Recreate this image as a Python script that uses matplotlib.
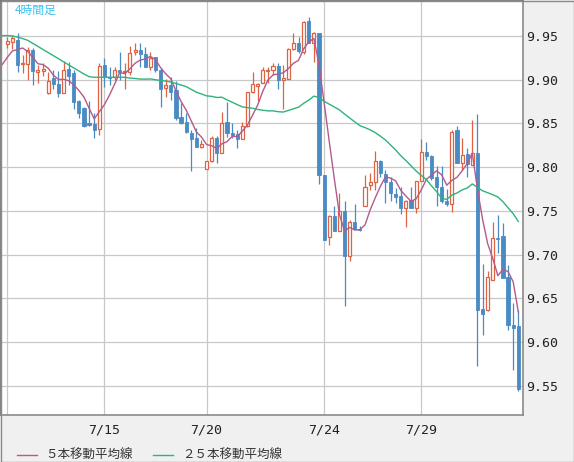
import numpy as np
import pandas as pd
import matplotlib
matplotlib.use("Agg")
import matplotlib.pyplot as plt
from matplotlib.lines import Line2D

# 4-hour candles (oldest first)
opens = [9.9405, 9.9435, 9.9454, 9.9176, 9.9176, 9.9340, 9.9092, 9.9104, 9.8845, 9.9016,
         9.8951, 9.8852, 9.9123, 9.9081, 9.8761, 9.8681, 9.8502, 9.8494, 9.8433, 9.9169,
         9.9035, 9.9028, 9.9111, 9.9085, 9.9085, 9.9321, 9.9340, 9.9294, 9.9150, 9.9264,
         9.9111, 9.8902, 9.8940, 9.8883, 9.8578, 9.8513, 9.8395, 9.8338, 9.8235, 9.7976,
         9.8075, 9.8338, 9.8159, 9.8513, 9.8395, 9.8380, 9.8323, 9.8471, 9.8856, 9.8929,
         9.8959, 9.9100, 9.9111, 9.9157, 9.8993, 9.9009, 9.9348, 9.9424, 9.9321, 9.9675,
         9.9424, 9.9530, 9.7911, 9.7199, 9.7443, 9.7275, 9.7500, 9.6978, 9.7370, 9.7294,
         9.7561, 9.7793, 9.7828, 9.8075, 9.7919, 9.7835, 9.7690, 9.7672, 9.7530, 9.7626,
         9.7530, 9.7843, 9.8170, 9.8128, 9.7886, 9.7770, 9.7618, 9.7576, 9.8426, 9.8045,
         9.8151, 9.8026, 9.8167, 9.6380, 9.6361, 9.6711, 9.7195, 9.7207, 9.6742, 9.6197,
         9.6186]
highs = [9.9492, 9.9511, 9.9530, 9.9283, 9.9378, 9.9359, 9.9169, 9.9188, 9.9092, 9.9111,
         9.9104, 9.9214, 9.9207, 9.9111, 9.8769, 9.8692, 9.8757, 9.8616, 9.9188, 9.9245,
         9.9150, 9.9150, 9.9313, 9.9188, 9.9390, 9.9424, 9.9416, 9.9378, 9.9321, 9.9264,
         9.9130, 9.9009, 9.9028, 9.8986, 9.8730, 9.8616, 9.8426, 9.8452, 9.8311, 9.8071,
         9.8357, 9.8357, 9.8635, 9.8750, 9.8502, 9.8426, 9.8513, 9.8864, 9.9092, 9.8967,
         9.9150, 9.9150, 9.9195, 9.9188, 9.9169, 9.9367, 9.9530, 9.9492, 9.9675, 9.9713,
         9.9550, 9.9530, 9.7911, 9.7454, 9.7557, 9.7702, 9.7607, 9.7397, 9.7580, 9.7332,
         9.7911, 9.7930, 9.8186, 9.8086, 9.7969, 9.7892, 9.7759, 9.7778, 9.7626, 9.7770,
         9.7843, 9.8319, 9.8292, 9.8140, 9.8014, 9.8014, 9.7748, 9.8426, 9.8475, 9.8338,
         9.8216, 9.8540, 9.8609, 9.6890, 9.6807, 9.7378, 9.7454, 9.7359, 9.6875, 9.6445,
         9.6369]
lows = [9.9359, 9.9348, 9.9092, 9.9081, 9.8997, 9.8940, 9.8959, 9.9043, 9.8837, 9.8890,
        9.8807, 9.8845, 9.8940, 9.8662, 9.8559, 9.8464, 9.8471, 9.8330, 9.8369, 9.8921,
        9.8940, 9.8997, 9.8997, 9.8890, 9.9054, 9.9283, 9.9150, 9.9150, 9.9111, 9.9092,
        9.8692, 9.8807, 9.8769, 9.8540, 9.8494, 9.8395, 9.7950, 9.8228, 9.8216, 9.7976,
        9.8064, 9.8045, 9.8159, 9.8350, 9.8330, 9.8216, 9.8323, 9.8464, 9.8852, 9.8754,
        9.8959, 9.8959, 9.9054, 9.8890, 9.8666, 9.9009, 9.9340, 9.9302, 9.9290, 9.9416,
        9.9207, 9.7805, 9.7169, 9.7104, 9.7264, 9.7264, 9.6414, 9.6929, 9.7290, 9.7264,
        9.7561, 9.7740, 9.7740, 9.7892, 9.7588, 9.7607, 9.7588, 9.7462, 9.7310, 9.7530,
        9.7473, 9.7843, 9.8083, 9.7854, 9.7557, 9.7595, 9.7557, 9.7485, 9.8045, 9.7969,
        9.7892, 9.8026, 9.5721, 9.6083, 9.6350, 9.6711, 9.7016, 9.6730, 9.6140, 9.5675,
        9.5443]
closes = [9.9443, 9.9473, 9.9169, 9.9188, 9.9340, 9.9104, 9.9111, 9.9119, 9.8986, 9.8948,
          9.8852, 9.9111, 9.9047, 9.8750, 9.8624, 9.8471, 9.8487, 9.8426, 9.9157, 9.9028,
          9.9024, 9.9111, 9.9085, 9.9100, 9.9302, 9.9340, 9.9294, 9.9150, 9.9245, 9.9111,
          9.8890, 9.8940, 9.8864, 9.8559, 9.8502, 9.8399, 9.8319, 9.8235, 9.8266, 9.8071,
          9.8330, 9.8167, 9.8502, 9.8388, 9.8372, 9.8323, 9.8475, 9.8856, 9.8948, 9.8948,
          9.9111, 9.9111, 9.9157, 9.8997, 9.9020, 9.9348, 9.9416, 9.9329, 9.9656, 9.9416,
          9.9538, 9.7911, 9.7169, 9.7443, 9.7264, 9.7500, 9.6978, 9.7370, 9.7290, 9.7286,
          9.7770, 9.7828, 9.8071, 9.7938, 9.7835, 9.7702, 9.7664, 9.7530, 9.7618, 9.7530,
          9.7843, 9.8170, 9.8132, 9.7873, 9.7770, 9.7618, 9.7576, 9.8407, 9.8045, 9.8140,
          9.8033, 9.8167, 9.6369, 9.6319, 9.6742, 9.7188, 9.7176, 9.6730, 9.6190, 9.6159,
          9.5466]

# closes before the visible window (estimated from where the averages start)
prior_closes = [9.9415, 9.960, 9.950, 9.960, 9.984, 9.998, 9.999, 9.999, 9.986, 9.982,
                9.973, 9.999, 9.992, 9.963, 9.950, 9.935, 9.924, 9.860, 9.9157, 9.9028,
                9.9024, 9.9111, 9.9085, 9.9100, 9.954]

date_pos = [19, 39, 62, 81]
date_labels = ["7/15", "7/20", "7/24", "7/29"]
price_ticks = [9.55, 9.60, 9.65, 9.70, 9.75, 9.80, 9.85, 9.90, 9.95]

UP = "#de6244"
DOWN = "#4a8bc4"
MA5_COL = "#b45a8c"
MA25_COL = "#2eb47a"
JP = ["Noto Sans CJK JP", "DejaVu Sans"]

W, H = 574, 462
fig = plt.figure(figsize=(W / 100, H / 100), dpi=100, facecolor="#f0f0f0")
ax = fig.add_axes([1 / W, 1 - 415 / H, 522 / W, 414 / H], facecolor="white")

o = np.array(opens)
h = np.array(highs)
l = np.array(lows)
c = np.array(closes)
idx = np.arange(len(c))
up = c >= o

# grid
for p in price_ticks:
    ax.axhline(p, color="#c8c8c8", lw=0.9, zorder=1)
for d in [0] + date_pos:
    ax.axvline(d, color="#c8c8c8", lw=0.9, zorder=1)

# wicks and bodies
ax.vlines(idx[up], l[up], h[up], color=UP, lw=0.9, zorder=2)
ax.vlines(idx[~up], l[~up], h[~up], color=DOWN, lw=0.9, zorder=2)
body_lo = np.minimum(o, c)
body_h = np.maximum(np.abs(c - o), 0.0012)
ax.bar(idx[up], body_h[up], bottom=body_lo[up], width=0.6,
       facecolor="white", edgecolor=UP, lw=0.9, zorder=3)
ax.bar(idx[~up], body_h[~up], bottom=body_lo[~up], width=0.62,
       facecolor=DOWN, edgecolor=DOWN, lw=0.6, zorder=3)

# moving averages
full = pd.Series(prior_closes + closes)
xs = np.arange(-len(prior_closes), len(closes))
ma5 = full.rolling(5).mean()
ma25 = full.rolling(25).mean()
keep = xs >= -1
ax.plot(xs[keep], ma5[keep], color=MA5_COL, lw=1.0, zorder=4)
ax.plot(xs[keep], ma25[keep], color=MA25_COL, lw=1.0, zorder=4)

ax.set_xlim(-1.233, 100.92)
ax.set_ylim(9.5165, 9.9900)

ax.yaxis.tick_right()
ax.set_yticks(price_ticks)
ax.set_yticklabels([f"{p:.2f}" for p in price_ticks], family="DejaVu Sans Mono",
                   fontsize=9.5, color="#222222")
ax.set_xticks(date_pos)
ax.set_xticklabels(date_labels, family="DejaVu Sans Mono", fontsize=9.5, color="#222222")
ax.tick_params(axis="both", length=0)
ax.tick_params(axis="y", pad=2)
ax.tick_params(axis="x", pad=6)

for side in ["left", "top"]:
    ax.spines[side].set_color("#6e6e6e")
for side in ["right", "bottom"]:
    ax.spines[side].set_color("#8a8a8a")
for sp in ax.spines.values():
    sp.set_linewidth(1.2)

fig.text(15 / W, 1 - 10 / H, "4時間足", family=JP, fontsize=8.5,
         color="#3cc3f0", va="center", ha="left")

# legend drawn by hand along the bottom
ly = 1 - 455 / H
fig.add_artist(Line2D([16.5 / W, 36.6 / W], [ly, ly], color=MA5_COL, lw=1.0))
fig.text(45 / W, ly, "５本移動平均線", family=JP, fontsize=9, color="#333333", va="center")
fig.add_artist(Line2D([153 / W, 173 / W], [ly, ly], color=MA25_COL, lw=1.0))
fig.text(182 / W, ly, "２５本移動平均線", family=JP, fontsize=9, color="#333333", va="center")

# outer frame
fig.add_artist(plt.Rectangle((0.5 / W, 0.5 / H), (W - 1) / W, (H - 1) / H,
                             transform=fig.transFigure, fill=False,
                             edgecolor="#8a8a8a", lw=1.0))

fig.savefig("out.png", dpi=100, facecolor=fig.get_facecolor())
